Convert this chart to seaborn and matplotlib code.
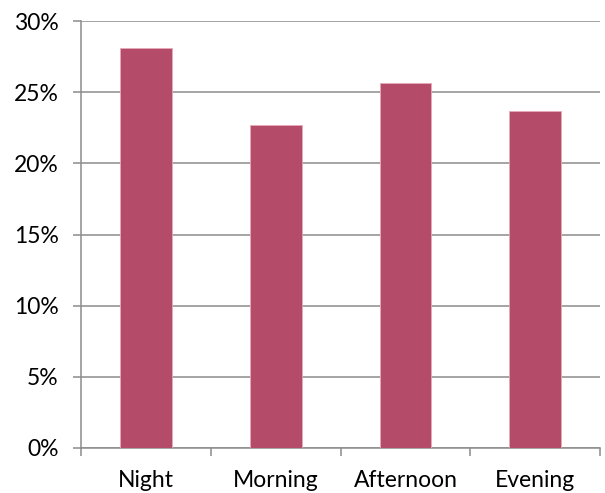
import matplotlib
matplotlib.use("Agg")
import matplotlib.pyplot as plt
import seaborn as sns
import pandas as pd
from matplotlib.ticker import FixedLocator, NullFormatter, PercentFormatter

categories = ["Night", "Morning", "Afternoon", "Evening"]
values = [28.1, 22.7, 25.65, 23.7]
yticks = [0, 5, 10, 15, 20, 25, 30]

sns.set_theme(style="white")
plt.rcParams['font.family'] = ['Lato', 'DejaVu Sans']

df = pd.DataFrame({"period": categories, "share": values})

fig = plt.figure(figsize=(6.05, 4.93), dpi=100)
ax = fig.add_axes([0.134, 0.0913, 0.858, 0.866])

sns.barplot(data=df, x="period", y="share", color="#B44C69", saturation=1,
            width=0.40, edgecolor="#E8A9BA", linewidth=0.6, ax=ax, zorder=3)

ax.set_ylim(0, 30)
ax.set_xlim(-0.5, 3.5)
ax.set_yticks(yticks)
ax.yaxis.set_major_formatter(PercentFormatter(decimals=0))
ax.yaxis.grid(True, color="#8C8C8C", linewidth=1.1, zorder=0)
ax.set_axisbelow(True)

# category boundaries as major ticks, labels on minor ticks at centers
ax.xaxis.set_major_locator(FixedLocator([-0.5, 0.5, 1.5, 2.5, 3.5]))
ax.xaxis.set_major_formatter(NullFormatter())
ax.set_xticks([0, 1, 2, 3], minor=True)
ax.set_xticklabels(categories, minor=True)
ax.tick_params(axis="x", which="major", direction="out", length=6, width=1.1, color="#8C8C8C", bottom=True)
ax.tick_params(axis="x", which="minor", length=0, pad=16, labelsize=16.5, colors="black")
ax.tick_params(axis="y", direction="out", length=6, width=1.1, color="#8C8C8C", left=True, pad=10, labelsize=16.5, labelcolor="black")

ax.set_xlabel("")
ax.set_ylabel("")
for s in ["top", "right"]:
    ax.spines[s].set_visible(False)
for s in ["left", "bottom"]:
    ax.spines[s].set_color("#8C8C8C")
    ax.spines[s].set_linewidth(1.1)

fig.savefig("out.png", dpi=100)
